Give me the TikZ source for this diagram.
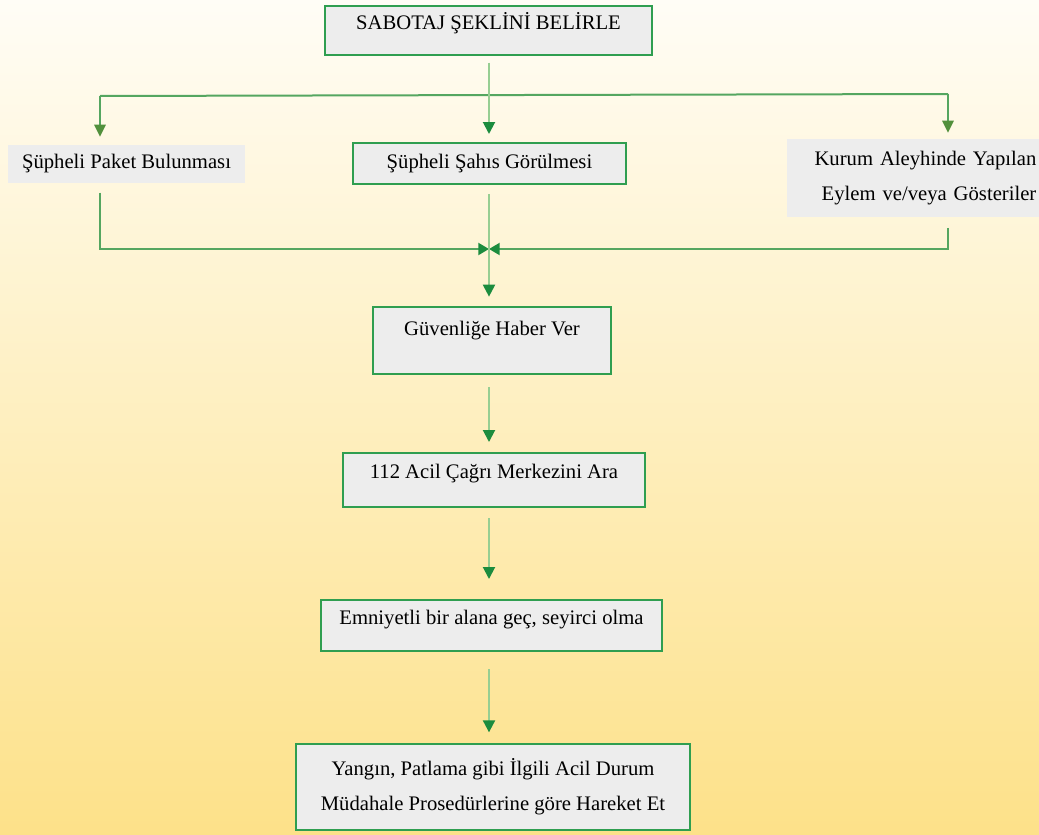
\documentclass[tikz,border=0pt]{standalone}
\usepackage{fontspec}
\setmainfont{Liberation Serif}
\usetikzlibrary{arrows.meta,calc}
\definecolor{bgtop}{HTML}{FFFDF6}
\definecolor{bgmid}{HTML}{FEEFC4}
\definecolor{bgbot}{HTML}{FDE189}
\definecolor{boxgray}{HTML}{EDEDED}
\definecolor{boxgreen}{HTML}{2F9E50}
\definecolor{linegreen}{HTML}{97CE92}
\definecolor{branchgreen}{HTML}{55A660}
\definecolor{tipgreen}{HTML}{1C8C3E}
\definecolor{olivegreen}{HTML}{52903C}
\tikzset{
  box/.style={draw=boxgreen, line width=1.5pt, fill=boxgray, inner sep=2pt, font=\fontsize{15.5pt}{26pt}\selectfont},
  plain/.style={fill=boxgray, inner sep=2pt, font=\fontsize{15.5pt}{26pt}\selectfont},
  oneline/.style={text height=11pt, text depth=4pt},
  link/.style={draw=linegreen, line width=1.5pt},
  branch/.style={draw=branchgreen, line width=1.5pt},
  arr/.style={link, -{Triangle[length=9pt,width=9pt,color=tipgreen]}},
  sidearr/.style={branch, -{Triangle[length=9pt,width=8.5pt,color=olivegreen]}},
  joinarr/.style={branch, -{Triangle[length=8pt,width=9pt,color=tipgreen]}}
}
\begin{document}
\begin{tikzpicture}[x=0.75pt,y=-0.75pt]
\shade[top color=bgtop, middle color=bgmid, bottom color=bgbot] (0,0) rectangle (1039,835);
% boxes
\node[box,oneline,text depth=12pt,minimum width=245pt,minimum height=36.75pt] (sabotaj) at (488.5,30.5) {SABOTAJ ŞEKLİNİ BELİRLE};
\node[plain,oneline,minimum width=177.75pt,minimum height=28.5pt] (paket) at (126.5,164) {Şüpheli Paket Bulunması};
\node[box,oneline,minimum width=204.75pt,minimum height=30.75pt] (sahis) at (489.5,163.5) {Şüpheli Şahıs Görülmesi};
\node[plain,align=right,text width=185pt,minimum width=189pt,minimum height=58.5pt] (kurum) at (913,178) {Kurum Aleyhinde Yapılan\\Eylem ve/veya Gösteriler};
\node[box,anchor=north,inner ysep=0pt,text height=21pt,text depth=29.25pt,minimum width=178.5pt] (guvenlik) at (492,306) {Güvenliğe Haber Ver};
\node[box,oneline,text depth=14pt,minimum width=226.5pt,minimum height=40.5pt] (cagri) at (494,480) {112 Acil Çağrı Merkezini Ara};
\node[box,oneline,text depth=12pt,minimum width=255.75pt,minimum height=38.25pt] (emniyet) at (491.5,625.5) {Emniyetli bir alana geç, seyirci olma};
\node[box,align=center,minimum width=295.5pt,minimum height=64.5pt] (hareket) at (493,787) {Yangın, Patlama gibi İlgili Acil Durum\\Müdahale Prosedürlerine göre Hareket Et};
% split into three
\coordinate (axis) at (489,0);
\coordinate (bl) at (100,96);
\coordinate (br) at (948,94);
\draw[branch] (bl) -- (br);
\draw[arr] ([yshift=-5pt]sabotaj.south -| axis) -- ([yshift=6pt]sahis.north -| axis);
\draw[sidearr] (bl) -- ([yshift=6pt]paket.north -| bl);
\draw[sidearr] (br) -- ([yshift=4.5pt]kurum.north -| br);
% merge
\coordinate (ml) at (100,249);
\coordinate (mr) at (948,249);
\coordinate (join) at (489,249);
\draw[joinarr] ([yshift=-7pt]paket.south -| ml) -- (ml) -- (join);
\draw[joinarr] ([yshift=-8pt]kurum.south -| mr) -- (mr) -- (join);
\draw[arr] ([yshift=-7pt]sahis.south -| axis) -- ([yshift=7pt]guvenlik.north -| axis);
% main chain
\foreach \a/\b/\s/\e in {guvenlik/cagri/9/7.5, cagri/emniyet/7.5/15, emniyet/hareket/12.75/8}
  \draw[arr] ([yshift=-\s pt]\a.south -| axis) -- ([yshift=\e pt]\b.north -| axis);
\end{tikzpicture}
\end{document}
